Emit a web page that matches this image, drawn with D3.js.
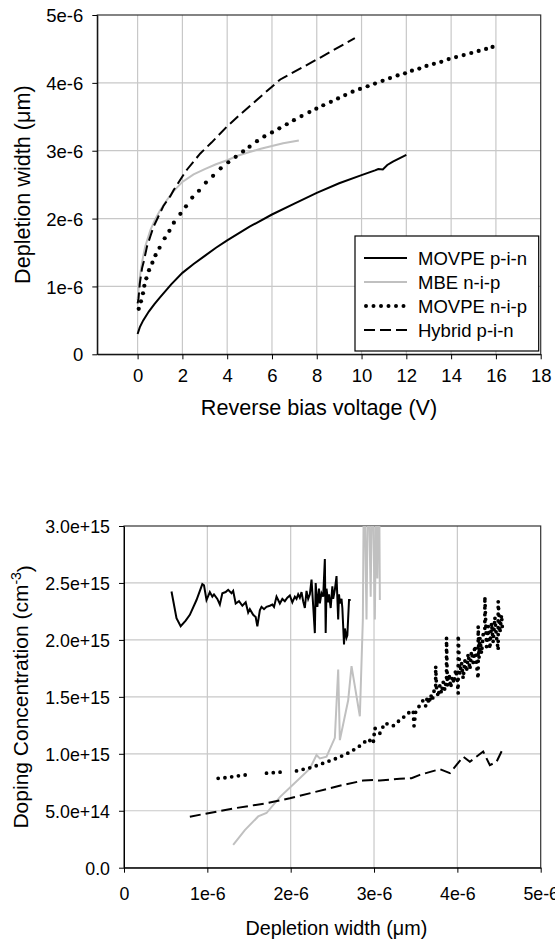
<!DOCTYPE html>
<html>
<head>
<meta charset="utf-8">
<script src="https://d3js.org/d3.v7.min.js"></script>
<style>
body { margin: 0; background: #fff; }
text { font-family: "Liberation Sans", Arial, sans-serif; fill: #000; }
</style>
</head>
<body>
<div id="chart"></div>
<script>
// ---- top chart: depletion width vs reverse bias (width values in 1e-6 units) ----
var pinV = [0, 0.1, 0.25, 0.5, 0.75, 1, 1.5, 2, 2.5, 3, 3.5, 4, 5, 6, 7, 8, 9, 10, 10.6, 10.75, 10.95, 11.15, 11.4, 12];
var pinW = [0.30, 0.40, 0.50, 0.63, 0.74, 0.84, 1.03, 1.20, 1.33, 1.45, 1.57, 1.68, 1.88, 2.06, 2.22, 2.38, 2.52, 2.64, 2.71, 2.73, 2.725, 2.79, 2.84, 2.94];

var mbeV = [0, 0.05, 0.12, 0.2, 0.34, 0.57, 0.8, 1.0, 1.3, 1.6, 2.0, 2.5, 3.0, 3.5, 4.0, 4.5, 5.0, 5.5, 6.0, 6.5, 7.2];
var mbeW = [0.80, 0.98, 1.19, 1.36, 1.59, 1.83, 2.00, 2.12, 2.27, 2.40, 2.54, 2.65, 2.73, 2.80, 2.86, 2.93, 2.98, 3.03, 3.07, 3.11, 3.15];

var nipV = [0.05, 0.15, 0.24, 0.30, 0.39, 0.51, 0.66, 0.80, 0.98, 1.21, 1.42, 1.62, 1.91, 2.16, 2.44, 2.74, 3.05, 3.37, 3.71, 4.05, 4.38, 4.71, 5.0, 5.33, 5.66, 6.0, 6.33, 6.66, 6.98, 7.32, 7.67, 7.98, 8.29, 8.63, 8.95, 9.27, 9.60, 9.93, 10.27, 10.6, 10.94, 11.27, 11.61, 11.94, 12.25, 12.58, 12.9, 13.23, 13.56, 13.89, 14.22, 14.56, 14.9, 15.23, 15.56, 15.85];
var nipW = [0.67, 0.78, 0.90, 1.01, 1.12, 1.24, 1.35, 1.46, 1.57, 1.71, 1.82, 1.94, 2.07, 2.18, 2.31, 2.41, 2.53, 2.63, 2.74, 2.83, 2.91, 2.99, 3.06, 3.14, 3.21, 3.27, 3.33, 3.39, 3.45, 3.51, 3.57, 3.62, 3.67, 3.72, 3.77, 3.82, 3.87, 3.91, 3.95, 3.99, 4.03, 4.07, 4.11, 4.14, 4.18, 4.21, 4.25, 4.28, 4.31, 4.35, 4.38, 4.41, 4.44, 4.47, 4.50, 4.53];

var hybV = [0, 0.04, 0.1, 0.2, 0.27, 0.42, 0.57, 0.71, 1.0, 1.16, 1.46, 1.61, 2.0, 2.2, 2.8, 3.3, 4.0, 4.6, 5.5, 6.37, 8.2, 9.7];
var hybW = [0.75, 0.82, 1.05, 1.27, 1.36, 1.59, 1.74, 1.88, 2.08, 2.19, 2.33, 2.42, 2.62, 2.72, 2.96, 3.12, 3.36, 3.54, 3.80, 4.05, 4.38, 4.66];

var topXTicks = [0, 2, 4, 6, 8, 10, 12, 14, 16, 18];
var topYTicks = [0, 1, 2, 3, 4, 5];
var legendNames = ["MOVPE p-i-n", "MBE n-i-p", "MOVPE n-i-p", "Hybrid p-i-n"];

// ---- bottom chart: doping vs depletion width (x in 1e-6, y in 1e15) ----
var pinDx = [0.57, 0.63, 0.68, 0.74, 0.79, 0.87, 0.94, 0.96, 0.99, 1.03, 1.06, 1.08, 1.12, 1.15, 1.18, 1.22, 1.25, 1.29, 1.31, 1.34, 1.38, 1.42, 1.46, 1.49, 1.51, 1.55, 1.58, 1.60, 1.63, 1.65, 1.68, 1.71, 1.75, 1.78, 1.80, 1.83, 1.85, 1.87, 1.90, 1.93, 1.96, 1.99, 2.02, 2.05, 2.07, 2.09, 2.11, 2.13, 2.15, 2.17, 2.19, 2.21, 2.23, 2.25, 2.27, 2.29, 2.30, 2.32, 2.34, 2.35, 2.37, 2.39, 2.41, 2.42, 2.43, 2.45, 2.46, 2.48, 2.50, 2.51, 2.53, 2.55, 2.57, 2.58, 2.59, 2.61, 2.62, 2.64, 2.65, 2.67, 2.68, 2.70, 2.72];
var pinDy = [2.425, 2.19, 2.12, 2.17, 2.22, 2.35, 2.49, 2.48, 2.35, 2.42, 2.38, 2.40, 2.36, 2.31, 2.41, 2.42, 2.44, 2.41, 2.43, 2.32, 2.34, 2.30, 2.33, 2.24, 2.27, 2.22, 2.20, 2.12, 2.26, 2.29, 2.27, 2.29, 2.30, 2.31, 2.29, 2.38, 2.35, 2.32, 2.36, 2.34, 2.37, 2.39, 2.33, 2.38, 2.36, 2.40, 2.37, 2.42, 2.34, 2.28, 2.43, 2.36, 2.40, 2.53, 2.30, 2.06, 2.50, 2.29, 2.45, 2.32, 2.41, 2.38, 2.71, 2.06, 2.45, 2.33, 2.40, 2.28, 2.47, 2.36, 2.44, 2.56, 2.18, 2.40, 2.32, 2.36, 2.28, 1.96, 2.10, 2.02, 2.04, 2.35, 2.35];

var mbeDx = [1.31, 1.45, 1.61, 1.71, 1.87, 2.03, 2.23, 2.31, 2.35, 2.43, 2.53, 2.57, 2.59, 2.69, 2.73, 2.83, 2.866, 2.88, 2.91, 2.93, 2.96, 2.98, 3.01, 3.03, 3.04, 3.06, 3.07];
var mbeDy = [0.20, 0.33, 0.45, 0.48, 0.62, 0.73, 0.87, 0.99, 0.96, 0.975, 1.14, 1.74, 1.12, 1.47, 1.77, 1.33, 2.18, 3.6, 2.18, 3.6, 2.38, 3.6, 2.18, 3.6, 2.54, 3.6, 2.35];

var nipDx = [1.13, 1.22, 1.31, 1.41, 1.52, NaN, 1.71, 1.80, 1.89, NaN, 2.07, 2.25, 2.40, 2.55, 2.70, 2.79, 2.85, 2.93, 2.99, 3.01, 3.07, 3.13, 3.23, 3.30, 3.33, 3.39, 3.47, 3.48, 3.50, 3.57, 3.59,
    3.62, 3.64, 3.66, 3.68, 3.70, 3.72, 3.74, 3.74, 3.75, 3.77, 3.79, 3.81, 3.83, 3.85, 3.87, 3.87, 3.88, 3.90, 3.92, 3.94, 3.96, 3.98, 4.00, 4.01, 4.01, 4.03, 4.05, 4.07, 4.09, 4.11, 4.13, 4.15, 4.17, 4.19, 4.21, 4.23, 4.25, 4.25, 4.26, 4.27, 4.29, 4.31, 4.33, 4.33, 4.35, 4.37, 4.39, 4.41, 4.43, 4.45, 4.47, 4.49, 4.49, 4.51, 4.53, 4.54];
var nipDy = [0.785, 0.79, 0.80, 0.81, 0.82, NaN, 0.83, 0.835, 0.84, NaN, 0.85, 0.88, 0.92, 0.96, 1.01, 1.05, 1.08, 1.13, 1.09, 1.225, 1.18, 1.27, 1.245, 1.29, 1.30, 1.35, 1.38, 1.245, 1.37, 1.45, 1.47,
    1.42, 1.50, 1.44, 1.52, 1.47, 1.55, 1.56, 1.77, 1.58, 1.50, 1.60, 1.53, 1.63, 1.56, 1.66, 2.02, 1.60, 1.70, 1.58, 1.68, 1.62, 1.74, 1.65, 1.53, 2.04, 1.70, 1.80, 1.66, 1.82, 1.72, 1.88, 1.74, 1.90, 1.80, 1.95, 1.78, 1.66, 2.12, 1.84, 2.02, 1.88, 2.05, 2.08, 2.38, 1.94, 2.12, 1.92, 2.15, 1.98, 2.20, 2.02, 1.91, 2.34, 2.06, 2.22, 2.10];

var hybDx = [0.79, 1.31, 1.71, 1.99, 2.31, 2.63, 2.87, 2.99, 3.07, 3.31, 3.45, 3.55, 3.79, 3.91, 4.07, 4.15, 4.31, 4.39, 4.47, 4.55];
var hybDy = [0.448, 0.52, 0.566, 0.61, 0.668, 0.727, 0.765, 0.77, 0.765, 0.78, 0.785, 0.815, 0.865, 0.83, 0.975, 0.93, 1.02, 0.90, 0.93, 1.05];

var botXTicks = [0, 1, 2, 3, 4, 5];
var botYTicks = [0, 0.5, 1.0, 1.5, 2.0, 2.5, 3.0];

var svgWidth = 555;
var svgHeight = 941;

var svg = d3.select("#chart")
    .append("svg")
    .attr("width", svgWidth)
    .attr("height", svgHeight);

// convert units
function um(arr) { return arr.map(v => v * 1e-6); }
function cm(arr) { return arr.map(v => v * 1e15); }

// draws gridlines, frame and axes for one panel
function drawFrame(g, x, y, box, opt) {
    g.append("g").selectAll("line")
        .data(opt.xGrid).enter().append("line")
        .attr("x1", d => x(d)).attr("x2", d => x(d))
        .attr("y1", box.top).attr("y2", box.bottom)
        .attr("stroke", "#c8c8c8").attr("stroke-width", 1.2);
    g.append("g").selectAll("line")
        .data(opt.yGrid).enter().append("line")
        .attr("x1", box.left).attr("x2", box.right)
        .attr("y1", d => y(d)).attr("y2", d => y(d))
        .attr("stroke", "#c8c8c8").attr("stroke-width", 1.2);

    g.append("rect")
        .attr("x", box.left).attr("y", box.top)
        .attr("width", box.right - box.left).attr("height", box.bottom - box.top)
        .attr("fill", "none").attr("stroke", "#333").attr("stroke-width", 1.2);

    var xAxis = g.append("g")
        .attr("transform", `translate(0, ${box.bottom})`)
        .call(d3.axisBottom(x).tickValues(opt.xTicks).tickSize(5).tickSizeOuter(0).tickFormat(opt.xFmt));
    xAxis.attr("font-size", null).attr("font-family", null);
    xAxis.selectAll("text").attr("y", opt.xLabelY).attr("dy", null).style("font-size", opt.tickFs + "px");

    var yAxis = g.append("g")
        .attr("transform", `translate(${box.left}, 0)`)
        .call(d3.axisLeft(y).tickValues(opt.yTicks).tickSize(5).tickSizeOuter(0).tickPadding(9).tickFormat(opt.yFmt));
    yAxis.attr("font-size", null).attr("font-family", null);
    yAxis.selectAll("text").attr("dy", "0.36em").style("font-size", opt.tickFs + "px");
}

// ================= top chart =================
var boxT = {left: 97.3, top: 15, right: 540.7, bottom: 354.3};
var xT = d3.scaleLinear().domain([-1.8, 18]).range([boxT.left, boxT.right]);
var yT = d3.scaleLinear().domain([0, 5e-6]).range([boxT.bottom, boxT.top]);

var gT = svg.append("g");
drawFrame(gT, xT, yT, boxT, {
    xGrid: [0, 2, 4, 6, 8, 10, 12, 14, 16],
    yGrid: um([1, 2, 3, 4]),
    xTicks: topXTicks,
    yTicks: um(topYTicks),
    xFmt: d => d,
    yFmt: d => d === 0 ? "0" : Math.round(d * 1e6) + "e-6",
    xLabelY: 27.5,
    tickFs: 18.5
});

var lineT = d3.line().x(d => xT(d[0])).y(d => yT(d[1]));

gT.append("path").datum(d3.zip(pinV, um(pinW)))
    .attr("d", lineT).attr("fill", "none")
    .attr("stroke", "#000").attr("stroke-width", 2);

gT.append("path").datum(d3.zip(mbeV, um(mbeW)))
    .attr("d", lineT).attr("fill", "none")
    .attr("stroke", "#c0c0c0").attr("stroke-width", 2);

gT.append("path").datum(d3.zip(hybV, um(hybW)))
    .attr("d", lineT).attr("fill", "none")
    .attr("stroke", "#000").attr("stroke-width", 2)
    .attr("stroke-dasharray", "11,5");

gT.append("g").selectAll("circle")
    .data(d3.zip(nipV, um(nipW))).enter().append("circle")
    .attr("cx", d => xT(d[0])).attr("cy", d => yT(d[1]))
    .attr("r", 2.1).attr("fill", "#000");

// axis titles
gT.append("text")
    .attr("x", (boxT.left + boxT.right) / 2).attr("y", 415)
    .attr("text-anchor", "middle").style("font-size", "21.6px")
    .text("Reverse bias voltage (V)");
gT.append("text")
    .attr("transform", `translate(30, ${(boxT.top + boxT.bottom) / 2}) rotate(-90)`)
    .attr("text-anchor", "middle").style("font-size", "21.6px")
    .text("Depletion width (\u03bcm)");

// legend
var legend = gT.append("g").attr("transform", "translate(355, 236)");
legend.append("rect").attr("width", 183.7).attr("height", 115)
    .attr("fill", "#fff").attr("stroke", "#000").attr("stroke-width", 1.2);
var legendStyles = [
    {stroke: "#000", dash: null, cap: "butt", w: 2},
    {stroke: "#c0c0c0", dash: null, cap: "butt", w: 2},
    {stroke: "#000", dash: "0,7.5", cap: "round", w: 4},
    {stroke: "#000", dash: "11,5", cap: "butt", w: 2}
];
legendNames.forEach(function(name, i) {
    var ly = 22 + i * 24;
    legend.append("line")
        .attr("x1", i === 2 ? 11 : 9).attr("x2", 52).attr("y1", ly).attr("y2", ly)
        .attr("stroke", legendStyles[i].stroke)
        .attr("stroke-width", legendStyles[i].w)
        .attr("stroke-linecap", legendStyles[i].cap)
        .attr("stroke-dasharray", legendStyles[i].dash);
    legend.append("text")
        .attr("x", 63).attr("y", ly + 7)
        .style("font-size", "18.5px")
        .text(name);
});

// ================= bottom chart =================
var boxB = {left: 124, top: 526, right: 540.7, bottom: 867.7};
var xB = d3.scaleLinear().domain([0, 5e-6]).range([boxB.left, boxB.right]);
var yB = d3.scaleLinear().domain([0, 3e15]).range([boxB.bottom, boxB.top]);

var gB = svg.append("g");
var fmtE = d3.format(".1e");
drawFrame(gB, xB, yB, boxB, {
    xGrid: um([1, 2, 3, 4]),
    yGrid: cm([0.5, 1.0, 1.5, 2.0, 2.5]),
    xTicks: um(botXTicks),
    yTicks: cm(botYTicks),
    xFmt: d => d === 0 ? "0" : Math.round(d * 1e6) + "e-6",
    yFmt: d => d === 0 ? "0.0" : fmtE(d),
    xLabelY: 32,
    tickFs: 17.8
});

svg.append("clipPath").attr("id", "clipB")
    .append("rect")
    .attr("x", boxB.left).attr("y", boxB.top)
    .attr("width", boxB.right - boxB.left).attr("height", boxB.bottom - boxB.top);

var plotB = gB.append("g").attr("clip-path", "url(#clipB)");
var lineB = d3.line()
    .defined(d => !isNaN(d[0]))
    .x(d => xB(d[0])).y(d => yB(d[1]));

plotB.append("path").datum(d3.zip(um(mbeDx), cm(mbeDy)))
    .attr("d", lineB).attr("fill", "none")
    .attr("stroke", "#c0c0c0").attr("stroke-width", 2);

plotB.append("path").datum(d3.zip(um(pinDx), cm(pinDy)))
    .attr("d", lineB).attr("fill", "none")
    .attr("stroke", "#000").attr("stroke-width", 2);

plotB.append("path").datum(d3.zip(um(hybDx), cm(hybDy)))
    .attr("d", lineB).attr("fill", "none")
    .attr("stroke", "#000").attr("stroke-width", 2)
    .attr("stroke-dasharray", "11,5");

plotB.append("path").datum(d3.zip(um(nipDx), cm(nipDy)))
    .attr("d", lineB).attr("fill", "none")
    .attr("stroke", "#000").attr("stroke-width", 3.8)
    .attr("stroke-linecap", "round")
    .attr("stroke-dasharray", "0,6.8");

gB.append("text")
    .attr("x", (boxB.left + boxB.right) / 2 + 4).attr("y", 935)
    .attr("text-anchor", "middle").style("font-size", "19.8px")
    .text("Depletion width (\u03bcm)");

var yTitle = gB.append("text")
    .attr("transform", `translate(28, ${(boxB.top + boxB.bottom) / 2}) rotate(-90)`)
    .attr("text-anchor", "middle").style("font-size", "21px");
yTitle.append("tspan").text("Doping Concentration (cm");
yTitle.append("tspan").attr("dy", "-0.5em").style("font-size", "14px").text("-3");
yTitle.append("tspan").attr("dy", "0.5em").text(")");
</script>
</body>
</html>
